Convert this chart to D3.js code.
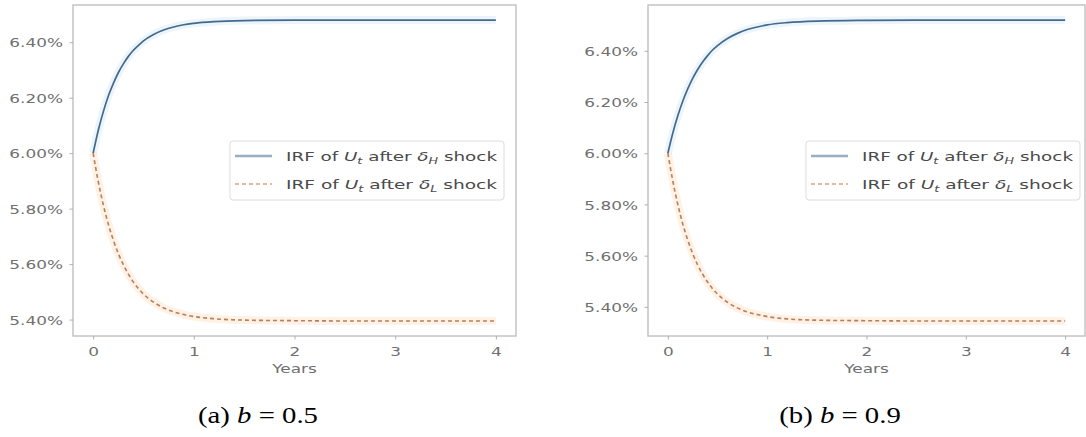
<!DOCTYPE html>
<html>
<head>
<meta charset="utf-8">
<script src="https://cdn.jsdelivr.net/npm/d3@7"></script>
<style>
  html, body { margin: 0; padding: 0; background: #fff; }
  svg { display: block; }
</style>
</head>
<body>
<svg id="chart" width="1086" height="437"></svg>
<script>
// ---------------- data ----------------
const years = [0, 0.05, 0.1, 0.15, 0.2, 0.25, 0.3, 0.35, 0.4, 0.45, 0.5, 0.6, 0.7, 0.8, 0.9, 1.0, 1.2, 1.5, 2.0, 2.5, 3.0, 3.5, 4.0];

const irfHighB05 = [6.000, 6.081, 6.148, 6.205, 6.251, 6.290, 6.322, 6.349, 6.371, 6.389, 6.405, 6.428, 6.444, 6.455, 6.463, 6.468, 6.474, 6.478, 6.480, 6.480, 6.480, 6.480, 6.480];
const irfLowB05  = [6.000, 5.899, 5.815, 5.745, 5.687, 5.638, 5.598, 5.564, 5.535, 5.512, 5.492, 5.463, 5.442, 5.428, 5.418, 5.411, 5.403, 5.398, 5.396, 5.395, 5.395, 5.395, 5.395];

const irfHighB09 = [6.000, 6.079, 6.146, 6.203, 6.251, 6.292, 6.327, 6.356, 6.381, 6.403, 6.420, 6.448, 6.468, 6.483, 6.493, 6.501, 6.510, 6.516, 6.519, 6.520, 6.520, 6.520, 6.520];
const irfLowB09  = [6.000, 5.891, 5.800, 5.724, 5.661, 5.608, 5.564, 5.528, 5.497, 5.471, 5.450, 5.418, 5.396, 5.380, 5.370, 5.362, 5.353, 5.348, 5.346, 5.345, 5.345, 5.345, 5.345];

const xTicks = [0, 1, 2, 3, 4];
const yTicks = [5.4, 5.6, 5.8, 6.0, 6.2, 6.4];
const xLabel = "Years";
const captionPrefixes = ["(a)", "(b)"];
const captionValues = ["0.5", "0.9"];

// ---------------- layout ----------------
const svg = d3.select("#chart");
const panels = [
  { left: 73, right: 516, top: 5, bottom: 336, high: irfHighB05, low: irfLowB05,
    legend: { x: 230, y: 141, w: 274, h: 59 }, captionX: 258 },
  { left: 648, right: 1085, top: 5, bottom: 336, high: irfHighB09, low: irfLowB09,
    legend: { x: 806, y: 141, w: 274, h: 59 }, captionX: 840 }
];

const blue = "#45698c";
const orange = "#b47f62";
const tickColor = "#707070";
const frameColor = "#c4c4c4";
const sx = 1.3; // horizontal stretch of the reference text

panels.forEach((p, i) => {
  const g = svg.append("g");
  const all = p.high.concat(p.low);
  const lo = d3.min(all), hi = d3.max(all), pad = (hi - lo) * 0.05;
  const x = d3.scaleLinear().domain([-0.2, 4.2]).range([p.left, p.right]);
  const y = d3.scaleLinear().domain([lo - pad, hi + pad]).range([p.bottom, p.top]);

  // frame
  g.append("rect")
    .attr("x", p.left).attr("y", p.top)
    .attr("width", p.right - p.left).attr("height", p.bottom - p.top)
    .attr("fill", "#fff").attr("stroke", frameColor).attr("stroke-width", 1.5);

  // y axis
  const ya = g.append("g").attr("transform", `translate(${p.left},0)`)
    .call(d3.axisLeft(y).tickValues(yTicks).tickSize(3.5).tickFormat(d => d.toFixed(2) + "%"));
  ya.select(".domain").remove();
  ya.selectAll(".tick line").attr("stroke", "#b0b0b0");
  ya.selectAll(".tick text")
    .attr("x", -10 / sx).attr("dy", "0.36em")
    .attr("transform", `scale(${sx},1)`)
    .attr("fill", tickColor)
    .style("font-family", "DejaVu Sans").style("font-size", "13px");

  // x axis
  const xa = g.append("g").attr("transform", `translate(0,${p.bottom})`)
    .call(d3.axisBottom(x).tickValues(xTicks).tickSize(3.5).tickFormat(d3.format("d")));
  xa.select(".domain").remove();
  xa.selectAll(".tick line").attr("stroke", "#b0b0b0");
  xa.selectAll(".tick text")
    .attr("y", 11).attr("dy", "0.71em")
    .attr("transform", `scale(${sx},1)`)
    .attr("fill", tickColor)
    .style("font-family", "DejaVu Sans").style("font-size", "13px");

  g.append("text")
    .attr("transform", `translate(${(p.left + p.right) / 2},${p.bottom + 37}) scale(${sx},1)`)
    .attr("text-anchor", "middle")
    .attr("fill", tickColor)
    .style("font-family", "DejaVu Sans").style("font-size", "13px")
    .text(xLabel);

  // lines
  const line = d3.line().curve(d3.curveMonotoneX).x((d, k) => x(years[k])).y(d => y(d));
  // soft halos
  g.append("path").datum(p.high).attr("d", line).attr("fill", "none")
    .attr("stroke", "#9ccbea").attr("stroke-opacity", 0.2).attr("stroke-width", 8);
  g.append("path").datum(p.low).attr("d", line).attr("fill", "none")
    .attr("stroke", "#ffc690").attr("stroke-opacity", 0.25).attr("stroke-width", 8);
  g.append("path").datum(p.high).attr("d", line).attr("fill", "none")
    .attr("stroke", blue).attr("stroke-width", 1.7);
  g.append("path").datum(p.low).attr("d", line).attr("fill", "none")
    .attr("stroke", orange).attr("stroke-width", 1.6).attr("stroke-dasharray", "4,3");

  // legend
  const L = p.legend;
  const lg = g.append("g");
  lg.append("rect").attr("x", L.x).attr("y", L.y).attr("width", L.w).attr("height", L.h)
    .attr("rx", 3).attr("fill", "#fff").attr("fill-opacity", 0.85)
    .attr("stroke", "#dcdcdc").attr("stroke-width", 1);
  const rows = [
    { sub: "H", color: "#98aec4", dash: null, w: 2.6 },
    { sub: "L", color: "#e2b89e", dash: "4,3", w: 2 }
  ];
  rows.forEach((r, k) => {
    const cy = L.y + 15 + k * 28;
    lg.append("line").attr("x1", L.x + 5).attr("x2", L.x + 42).attr("y1", cy).attr("y2", cy)
      .attr("stroke", r.color).attr("stroke-width", r.w).attr("stroke-dasharray", r.dash);
    const t = lg.append("text").attr("x", L.x + 56).attr("y", cy + 5)
      .attr("fill", "#4a4a4a")
      .attr("textLength", 211).attr("lengthAdjust", "spacingAndGlyphs")
      .style("font-family", "DejaVu Sans").style("font-size", "13px");
    t.append("tspan").text("IRF of ");
    t.append("tspan").style("font-style", "italic").text("U");
    t.append("tspan").style("font-style", "italic").style("font-size", "9px").attr("dy", 3).text("t");
    t.append("tspan").attr("dy", -3).text(" after ");
    t.append("tspan").style("font-style", "italic").text("δ");
    t.append("tspan").style("font-style", "italic").style("font-size", "9px").attr("dy", 3).text(r.sub);
    t.append("tspan").attr("dy", -3).text(" shock");
  });

  // caption
  const c = svg.append("text")
    .attr("transform", `translate(${p.captionX},423) scale(1.25,1)`)
    .attr("text-anchor", "middle")
    .attr("fill", "#000")
    .style("font-family", "Liberation Serif").style("font-size", "23px");
  c.append("tspan").text(captionPrefixes[i] + " ");
  c.append("tspan").style("font-style", "italic").text("b");
  c.append("tspan").text(" = " + captionValues[i]);
});
</script>
</body>
</html>
